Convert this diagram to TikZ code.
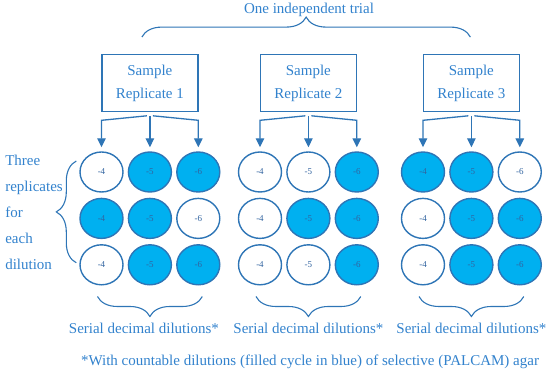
\documentclass[tikz,border=0pt]{standalone}
\usepackage{fontspec}
\setmainfont{Liberation Serif}
\usetikzlibrary{arrows.meta,positioning,shapes.geometric,decorations.pathreplacing}

\definecolor{lineblue}{RGB}{46,117,182}
\definecolor{textblue}{RGB}{50,130,205}
\definecolor{dishblue}{RGB}{0,176,240}
\definecolor{numblue}{RGB}{50,100,160}

\begin{document}
\begin{tikzpicture}[
  x=1pt, y=-1pt,
  font=\fontsize{15}{23}\selectfont,
  text=textblue,
  >={Triangle[width=8.5pt,length=9pt]},
  sample/.style={draw=lineblue, line width=1.2pt, align=center, minimum width=96pt, minimum height=57pt, inner sep=2pt},
  dish/.style={ellipse, draw=lineblue, line width=1.4pt, minimum width=43pt, minimum height=40pt, inner sep=0pt, text=numblue, font=\fontsize{9}{9}\selectfont},
  full/.style={dish, fill=dishblue},
  feed/.style={->, draw=lineblue, line width=1.3pt},
  brc/.style={draw=lineblue, line width=1.1pt, decorate, decoration={brace, amplitude=20pt}}
]
\useasboundingbox (0,0) rectangle (550,377);

% replicate 1
\node[dish] (a11) at (101.5,172) {-4};
\node[full, right=4pt of a11] (a12) {-5};
\node[full, right=4pt of a12] (a13) {-6};
\node[full, below=5pt of a11] (a21) {-4};
\node[full, right=4pt of a21] (a22) {-5};
\node[dish, right=4pt of a22] (a23) {-6};
\node[dish, below=5pt of a21] (a31) {-4};
\node[full, right=4pt of a31] (a32) {-5};
\node[full, right=4pt of a32] (a33) {-6};

% replicate 2
\node[dish] (b11) at (260,172) {-4};
\node[dish, right=4pt of b11] (b12) {-5};
\node[full, right=4pt of b12] (b13) {-6};
\node[dish, below=5pt of b11] (b21) {-4};
\node[full, right=4pt of b21] (b22) {-5};
\node[full, right=4pt of b22] (b23) {-6};
\node[dish, below=5pt of b21] (b31) {-4};
\node[dish, right=4pt of b31] (b32) {-5};
\node[full, right=4pt of b32] (b33) {-6};

% replicate 3
\node[full] (c11) at (423,172) {-4};
\node[full, right=4pt of c11] (c12) {-5};
\node[dish, right=4pt of c12] (c13) {-6};
\node[dish, below=5pt of c11] (c21) {-4};
\node[full, right=4pt of c21] (c22) {-5};
\node[full, right=4pt of c22] (c23) {-6};
\node[dish, below=5pt of c21] (c31) {-4};
\node[full, right=4pt of c31] (c32) {-5};
\node[full, right=4pt of c32] (c33) {-6};

\node[sample, above=39pt of a12] (rep1) {Sample\\Replicate 1};
\node[sample, above=39pt of b12] (rep2) {Sample\\Replicate 2};
\node[sample, above=39pt of c12] (rep3) {Sample\\Replicate 3};

\draw[feed] ([yshift=-3.5pt]rep1.south) -- ([yshift=4pt]a12.north);
\draw[feed] ([xshift=-3pt,yshift=-3.5pt]rep1.south) -- ([yshift=31pt]a11.north) -- ([yshift=4pt]a11.north);
\draw[feed] ([xshift=3pt,yshift=-3.5pt]rep1.south) -- ([yshift=31pt]a13.north) -- ([yshift=4pt]a13.north);

\draw[feed] ([yshift=-3.5pt]rep2.south) -- ([yshift=4pt]b12.north);
\draw[feed] ([xshift=-3pt,yshift=-3.5pt]rep2.south) -- ([yshift=31pt]b11.north) -- ([yshift=4pt]b11.north);
\draw[feed] ([xshift=3pt,yshift=-3.5pt]rep2.south) -- ([yshift=31pt]b13.north) -- ([yshift=4pt]b13.north);

\draw[feed] ([yshift=-3.5pt]rep3.south) -- ([yshift=4pt]c12.north);
\draw[feed] ([xshift=-3pt,yshift=-3.5pt]rep3.south) -- ([yshift=31pt]c11.north) -- ([yshift=4pt]c11.north);
\draw[feed] ([xshift=3pt,yshift=-3.5pt]rep3.south) -- ([yshift=31pt]c13.north) -- ([yshift=4pt]c13.north);

% trial brace
\draw[brc] ([xshift=-8pt,yshift=17pt]rep1.north) -- ([xshift=-1pt,yshift=17pt]rep3.north);
\node (trial) at (309,10) {One independent trial};

% replicates per dilution
\node[align=left, font=\fontsize{15}{26}\selectfont, left=13pt of a21, yshift=6pt] (three)
  {Three\\replicates\\for\\each\\dilution};
\draw[brc] ([xshift=-3pt,yshift=2pt]a31.west) -- ([xshift=-3pt,yshift=11pt]a11.west);

% dilution braces
\draw[brc] ([xshift=4pt,yshift=-11pt]a33.south) -- ([xshift=-4pt,yshift=-11pt]a31.south);
\draw[brc] ([xshift=4pt,yshift=-11pt]b33.south) -- ([xshift=-4pt,yshift=-11pt]b31.south);
\draw[brc] ([xshift=4pt,yshift=-11pt]c33.south) -- ([xshift=-4pt,yshift=-11pt]c31.south);
\node[below=34pt of a32, xshift=-6pt] (dil1) {Serial decimal dilutions*};
\node[below=34pt of b32] (dil2) {Serial decimal dilutions*};
\node[below=34pt of c32] (dil3) {Serial decimal dilutions*};

\node (note) at (310,362) {*With countable dilutions (filled cycle in blue) of selective (PALCAM) agar};

\end{tikzpicture}
\end{document}
